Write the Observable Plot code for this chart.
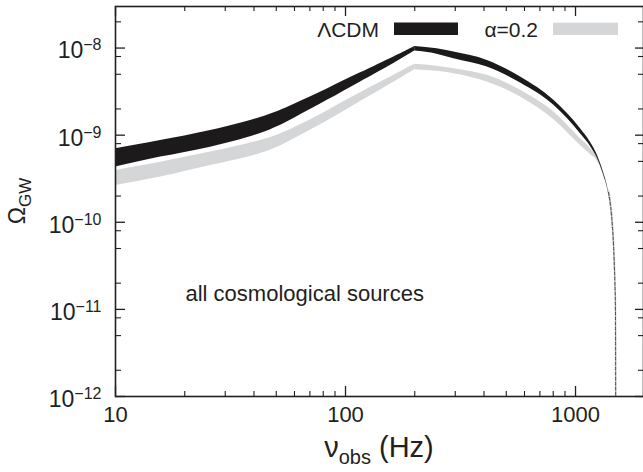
<!DOCTYPE html>
<html><head><meta charset="utf-8">
<script src="https://cdn.jsdelivr.net/npm/d3@7"></script>
<script src="https://cdn.jsdelivr.net/npm/@observablehq/plot@0.6"></script>
<style>
body{margin:0;background:#fff;}
#chart{position:absolute;left:0;top:0;}
svg{font-family:"Liberation Sans",Arial,Helvetica,sans-serif;}
</style></head><body><div id="chart"></div>
<script>
// observed frequency (Hz)
const freq   = [10, 15.7, 25.9, 42.7, 59.6, 83.3, 116.2, 162.2, 200, 250, 295.8, 413.2, 576.6, 804.9, 1051, 1162, 1246, 1323, 1392, 1434, 1463, 1482, 1492, 1497];
// ΛCDM band (upper / lower)
const lcdmHi = [6.99e-10, 8.70e-10, 1.134e-9, 1.599e-9, 2.255e-9, 3.398e-9, 5.19e-9, 7.92e-9, 1.045e-8, 9.8e-9, 8.99e-9, 7.22e-9, 4.64e-9, 2.51e-9, 1.186e-9, 8.26e-10, 5.86e-10, 3.74e-10, 2.20e-10, 1.198e-10, 5.42e-11, 2.15e-11, 9.7e-12, 1e-13];
const lcdmLo = [4.30e-10, 5.60e-10, 7.29e-10, 1.047e-9, 1.558e-9, 2.51e-9, 4.09e-9, 6.67e-9, 9.23e-9, 8.5e-9, 7.55e-9, 6.05e-9, 3.96e-9, 2.20e-9, 1.039e-9, 7.43e-10, 5.41e-10, 3.54e-10, 2.12e-10, 1.167e-10, 5.28e-11, 2.09e-11, 9.46e-12, 1e-13];
// α=0.2 band (upper / lower)
const alphaHi = [3.94e-10, 4.90e-10, 6.39e-10, 8.70e-10, 1.212e-9, 1.90e-9, 3.06e-9, 4.86e-9, 6.50e-9, 6.2e-9, 5.80e-9, 4.86e-9, 3.27e-9, 1.84e-9, 9.11e-10, 7.05e-10, 5.55e-10, 3.84e-10, 2.32e-10, 1.297e-10, 6.03e-11, 2.39e-11, 1.03e-11, 1e-13];
const alphaLo = [2.65e-10, 3.30e-10, 4.49e-10, 6.17e-10, 9.06e-10, 1.454e-9, 2.43e-9, 4.05e-9, 5.64e-9, 5.4e-9, 5.08e-9, 4.07e-9, 2.74e-9, 1.505e-9, 7.62e-10, 6.01e-10, 4.99e-10, 3.45e-10, 2.09e-10, 1.137e-10, 5.14e-11, 2.04e-11, 9.2e-12, 1e-13];

const seriesNames = ["ΛCDM", "α=0.2"];
const peakFreq = 200;
const xMajor = [10, 100, 1000];
const xTickText = ["10", "100", "1000"];
const xMinor = [20, 30, 40, 50, 60, 70, 80, 90, 200, 300, 400, 500, 600, 700, 800, 900];
const yMajor = [1e-12, 1e-11, 1e-10, 1e-9, 1e-8];
const yTickExp = ["−12", "−11", "−10", "−9", "−8"];
const yMinor = [2e-12, 5e-12, 8e-12, 2e-11, 5e-11, 8e-11, 2e-10, 5e-10, 8e-10, 2e-9, 5e-9, 8e-9, 2e-8];
const annotation = ["all cosmological sources"];

const INK = "#231f20", BLACK = "#1c1a1b", GRAY = "#d5d6d8";

const rows = freq.map((f, i) => ({f, lh: lcdmHi[i], ll: lcdmLo[i], ah: alphaHi[i], al: alphaLo[i]}));
const rise = rows.filter(d => d.f <= peakFreq);
const fall = rows.filter(d => d.f >= peakFreq);
const tail = rows.filter(d => d.f >= 1392);
const yLabRows = yMajor.map((v, i) => ({v, t: "10^" + yTickExp[i]}));
const xLabRows = xMajor.map((v, i) => ({v, t: xTickText[i]}));
const CR = "natural", CF = "monotone-x";

const plot = Plot.plot({
  width: 643, height: 472,
  marginLeft: 115, marginRight: 0, marginTop: 6, marginBottom: 76,
  x: {type: "log", domain: [10, 1975], axis: null},
  y: {type: "log", domain: [1e-12, 3e-8], axis: null},
  style: {fontFamily: '"Liberation Sans", Arial, Helvetica, sans-serif', fontSize: "22px", color: INK, background: "white"},
  marks: [
    Plot.areaY(rise, {x: "f", y1: "al", y2: "ah", fill: GRAY, curve: CR, clip: true}),
    Plot.areaY(fall, {x: "f", y1: "al", y2: "ah", fill: GRAY, curve: CF, clip: true}),
    Plot.areaY(rise, {x: "f", y1: "ll", y2: "lh", fill: BLACK, curve: CR, clip: true}),
    Plot.areaY(fall, {x: "f", y1: "ll", y2: "lh", fill: BLACK, curve: CF, clip: true}),
    Plot.line(tail, {x: "f", y: "ah", stroke: "#cfd0d2", strokeWidth: 1.6, curve: CF, clip: true}),
    Plot.line(tail, {x: "f", y: "lh", stroke: "#333", strokeWidth: 0.9, strokeDasharray: "3,2", curve: CF, clip: true}),
    // ticks bottom/top
    Plot.tickX(xMajor, {x: d => d, insetTop: 380, stroke: INK, strokeWidth: 1.3}),
    Plot.tickX(xMinor, {x: d => d, insetTop: 385, stroke: INK, strokeWidth: 1.1}),
    Plot.tickX(xMajor, {x: d => d, insetBottom: 380, stroke: INK, strokeWidth: 1.3}),
    Plot.tickX(xMinor, {x: d => d, insetBottom: 385, stroke: INK, strokeWidth: 1.1}),
    // ticks left/right
    Plot.tickY(yMajor, {y: d => d, insetRight: 518, stroke: INK, strokeWidth: 1.3}),
    Plot.tickY(yMinor, {y: d => d, insetRight: 522, stroke: INK, strokeWidth: 1.1}),
    Plot.tickY(yMajor, {y: d => d, insetLeft: 520, stroke: INK, strokeWidth: 1.3}),
    Plot.tickY(yMinor, {y: d => d, insetLeft: 523, stroke: INK, strokeWidth: 1.1}),
    Plot.frame({stroke: INK, strokeWidth: 1.6}),
    // tick labels
    Plot.text(xLabRows, {x: "v", text: "t", frameAnchor: "bottom", dy: 25, fontSize: 22, fill: INK}),
    Plot.text(yLabRows, {y: "v", text: "t", frameAnchor: "left", dx: -14, dy: 3, textAnchor: "end", fontSize: 23, fill: INK}),
    Plot.text(annotation, {text: d => d, frameAnchor: "top-left", dx: 70, dy: 278.7, textAnchor: "start", fontSize: 22, fill: INK})
  ]
});
document.getElementById("chart").appendChild(plot);

const svg = d3.select(plot);
// superscript exponents on y tick labels
svg.selectAll("text").filter(function () { return this.textContent.includes("^"); }).each(function () {
  const [base, exp] = this.textContent.split("^");
  this.textContent = "";
  const t = d3.select(this);
  t.append("tspan").text(base);
  t.append("tspan").attr("dy", -8).attr("font-size", 16).text(exp);
});

// axis labels
const xl = svg.append("text").attr("x", 379).attr("y", 457).attr("text-anchor", "middle")
  .attr("font-size", 29).attr("fill", INK);
xl.append("tspan").text("ν");
xl.append("tspan").attr("font-size", 20).attr("dy", 7).text("obs");
xl.append("tspan").attr("dy", -7).text(" (Hz)");

const yl = svg.append("text").attr("transform", "translate(25,201) rotate(-90)").attr("text-anchor", "middle")
  .attr("font-size", 23).attr("fill", INK);
yl.append("tspan").text("Ω");
yl.append("tspan").attr("font-size", 17).attr("dy", 6).text("GW");

// legend
const lg = svg.append("g").attr("font-size", 21).attr("fill", INK);
lg.append("text").attr("x", 379).attr("y", 36.5).attr("text-anchor", "end").text(seriesNames[0]);
lg.append("rect").attr("x", 394).attr("y", 22.5).attr("width", 64).attr("height", 12.5).attr("fill", BLACK);
lg.append("text").attr("x", 538).attr("y", 36.5).attr("text-anchor", "end").text(seriesNames[1]);
lg.append("rect").attr("x", 553).attr("y", 22.7).attr("width", 65).attr("height", 12.3).attr("fill", GRAY);
</script></body></html>
